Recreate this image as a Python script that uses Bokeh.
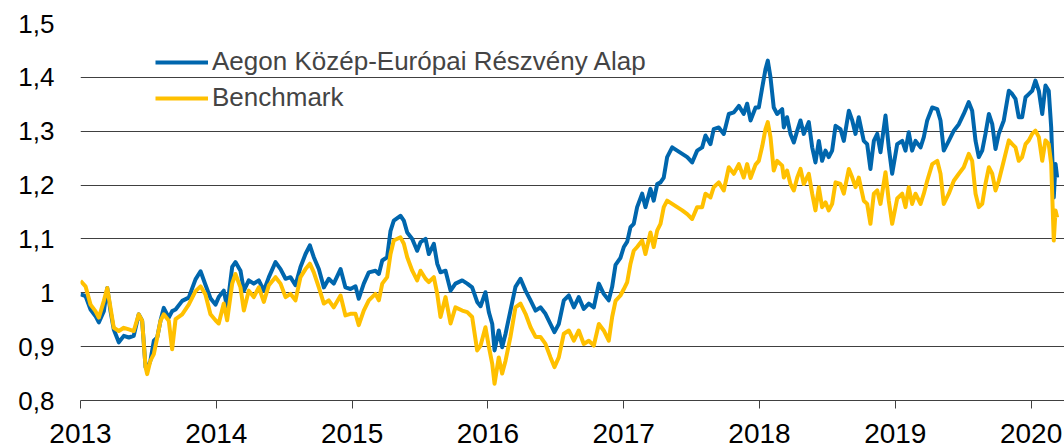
from bokeh.plotting import figure
from bokeh.models import FixedTicker, Legend, LegendItem, Range1d
from bokeh.embed import file_html
from bokeh.resources import INLINE

# decimal year positions of the readings
years = [
    2013.000, 2013.037, 2013.074, 2013.110, 2013.135, 2013.172, 2013.197, 2013.221, 2013.245, 2013.282,
    2013.319, 2013.356, 2013.392, 2013.429, 2013.454, 2013.479, 2013.491, 2013.515, 2013.540, 2013.565,
    2013.589, 2013.613, 2013.650, 2013.675, 2013.700, 2013.749, 2013.797, 2013.847, 2013.884, 2013.920,
    2013.957, 2013.994, 2014.018, 2014.055, 2014.080, 2014.117, 2014.141, 2014.178, 2014.203, 2014.239,
    2014.276, 2014.313, 2014.350, 2014.387, 2014.436, 2014.473, 2014.510, 2014.546, 2014.583, 2014.620,
    2014.657, 2014.689, 2014.718, 2014.755, 2014.792, 2014.828, 2014.865, 2014.915, 2014.951, 2014.988,
    2015.025, 2015.049, 2015.086, 2015.123, 2015.172, 2015.197, 2015.222, 2015.258, 2015.283, 2015.307,
    2015.356, 2015.381, 2015.406, 2015.443, 2015.479, 2015.504, 2015.541, 2015.565, 2015.602, 2015.627,
    2015.651, 2015.688, 2015.725, 2015.761, 2015.811, 2015.848, 2015.884, 2015.921, 2015.946, 2015.982,
    2016.007, 2016.032, 2016.049, 2016.080, 2016.105, 2016.130, 2016.166, 2016.203, 2016.240, 2016.277,
    2016.314, 2016.351, 2016.387, 2016.424, 2016.461, 2016.490, 2016.522, 2016.559, 2016.596, 2016.633,
    2016.669, 2016.706, 2016.743, 2016.780, 2016.817, 2016.853, 2016.890, 2016.915, 2016.940, 2016.976,
    2017.001, 2017.026, 2017.050, 2017.074, 2017.099, 2017.136, 2017.160, 2017.197, 2017.221, 2017.247,
    2017.271, 2017.295, 2017.320, 2017.357, 2017.394, 2017.431, 2017.468, 2017.504, 2017.541, 2017.578,
    2017.602, 2017.639, 2017.663, 2017.700, 2017.737, 2017.774, 2017.811, 2017.848, 2017.884, 2017.909,
    2017.934, 2017.971, 2017.995, 2018.020, 2018.044, 2018.061, 2018.081, 2018.105, 2018.130, 2018.167,
    2018.179, 2018.203, 2018.228, 2018.253, 2018.278, 2018.302, 2018.326, 2018.363, 2018.388, 2018.412,
    2018.437, 2018.461, 2018.486, 2018.510, 2018.535, 2018.560, 2018.596, 2018.621, 2018.658, 2018.683,
    2018.707, 2018.731, 2018.768, 2018.793, 2018.817, 2018.842, 2018.867, 2018.891, 2018.928, 2018.952,
    2018.977, 2019.014, 2019.051, 2019.075, 2019.099, 2019.124, 2019.149, 2019.186, 2019.210, 2019.235,
    2019.272, 2019.309, 2019.333, 2019.357, 2019.394, 2019.431, 2019.468, 2019.504, 2019.541, 2019.566,
    2019.591, 2019.615, 2019.640, 2019.664, 2019.689, 2019.714, 2019.738, 2019.762, 2019.799, 2019.836,
    2019.861, 2019.885, 2019.909, 2019.934, 2019.959, 2019.983, 2020.008, 2020.032, 2020.057, 2020.082,
    2020.106, 2020.130, 2020.148, 2020.167, 2020.180, 2020.192,
]

fund = [
    0.997, 0.994, 0.969, 0.957, 0.945, 0.966, 1.009, 0.966, 0.932, 0.908,
    0.920, 0.917, 0.920, 0.960, 0.948, 0.862, 0.858, 0.874, 0.911, 0.917,
    0.948, 0.972, 0.954, 0.966, 0.969, 0.985, 0.991, 1.025, 1.040, 1.015,
    0.990, 0.978, 0.992, 1.004, 0.973, 1.048, 1.057, 1.041, 1.004, 1.023,
    1.017, 1.023, 1.004, 1.029, 1.057, 1.044, 1.026, 1.029, 1.014, 1.048,
    1.072, 1.088, 1.066, 1.044, 1.010, 1.026, 1.017, 1.044, 1.010, 1.007,
    1.012, 0.989, 1.017, 1.038, 1.041, 1.035, 1.060, 1.066, 1.115, 1.134,
    1.143, 1.134, 1.112, 1.100, 1.078, 1.094, 1.100, 1.072, 1.091, 1.054,
    1.038, 1.041, 1.004, 1.017, 1.023, 1.017, 1.010, 0.983, 0.975, 1.001,
    0.964, 0.942, 0.893, 0.930, 0.899, 0.924, 0.967, 1.011, 1.026, 1.004,
    0.986, 0.967, 0.973, 0.961, 0.942, 0.927, 0.942, 0.986, 0.995, 0.973,
    0.992, 0.970, 0.980, 0.973, 1.017, 0.998, 0.986, 1.011, 1.052, 1.065,
    1.085, 1.095, 1.122, 1.128, 1.159, 1.184, 1.159, 1.193, 1.171, 1.202,
    1.205, 1.214, 1.252, 1.270, 1.264, 1.258, 1.252, 1.242, 1.264, 1.270,
    1.292, 1.276, 1.304, 1.307, 1.295, 1.332, 1.335, 1.347, 1.332, 1.351,
    1.320, 1.344, 1.344, 1.381, 1.415, 1.431, 1.400, 1.344, 1.332, 1.341,
    1.307, 1.326, 1.295, 1.279, 1.301, 1.320, 1.295, 1.317, 1.270, 1.242,
    1.282, 1.245, 1.264, 1.252, 1.264, 1.310, 1.304, 1.282, 1.338, 1.320,
    1.295, 1.326, 1.282, 1.276, 1.230, 1.282, 1.295, 1.261, 1.329, 1.270,
    1.221, 1.276, 1.282, 1.264, 1.298, 1.264, 1.282, 1.270, 1.289, 1.320,
    1.344, 1.341, 1.320, 1.264, 1.282, 1.301, 1.313, 1.332, 1.354, 1.338,
    1.282, 1.252, 1.264, 1.295, 1.332, 1.313, 1.267, 1.295, 1.320, 1.375,
    1.369, 1.360, 1.326, 1.326, 1.363, 1.369, 1.375, 1.394, 1.375, 1.332,
    1.385, 1.375, 1.307, 1.177, 1.239, 1.214,
]

benchmark = [
    1.022, 1.012, 0.978, 0.966, 0.954, 0.985, 1.009, 0.972, 0.935, 0.929,
    0.935, 0.932, 0.929, 0.960, 0.948, 0.862, 0.849, 0.874, 0.886, 0.917,
    0.948, 0.960, 0.948, 0.895, 0.951, 0.960, 0.978, 1.003, 1.012, 0.997,
    0.960, 0.949, 0.943, 0.980, 0.949, 1.017, 1.035, 1.010, 0.967, 1.004,
    0.992, 1.010, 0.983, 1.014, 1.029, 1.017, 0.992, 0.998, 0.986, 1.029,
    1.044, 1.054, 1.038, 1.010, 0.980, 0.986, 0.973, 0.995, 0.958, 0.961,
    0.961, 0.940, 0.967, 0.986, 0.998, 0.986, 1.017, 1.029, 1.072, 1.097,
    1.103, 1.091, 1.066, 1.041, 1.023, 1.041, 1.026, 1.020, 1.029, 0.998,
    0.955, 0.992, 0.943, 0.973, 0.967, 0.964, 0.955, 0.893, 0.902, 0.936,
    0.900, 0.868, 0.831, 0.880, 0.850, 0.874, 0.918, 0.973, 0.980, 0.961,
    0.936, 0.918, 0.918, 0.905, 0.880, 0.862, 0.880, 0.924, 0.930, 0.911,
    0.930, 0.905, 0.911, 0.902, 0.942, 0.930, 0.911, 0.955, 0.985, 0.995,
    1.007, 1.020, 1.054, 1.078, 1.085, 1.097, 1.072, 1.112, 1.085, 1.116,
    1.128, 1.159, 1.171, 1.165, 1.159, 1.153, 1.146, 1.137, 1.159, 1.159,
    1.184, 1.177, 1.196, 1.205, 1.190, 1.233, 1.221, 1.239, 1.214, 1.239,
    1.213, 1.238, 1.245, 1.272, 1.304, 1.317, 1.289, 1.227, 1.245, 1.236,
    1.214, 1.227, 1.202, 1.190, 1.214, 1.230, 1.202, 1.221, 1.184, 1.153,
    1.196, 1.159, 1.168, 1.153, 1.165, 1.205, 1.202, 1.184, 1.230, 1.214,
    1.196, 1.214, 1.171, 1.165, 1.128, 1.184, 1.190, 1.165, 1.224, 1.171,
    1.128, 1.175, 1.184, 1.159, 1.196, 1.165, 1.184, 1.165, 1.184, 1.208,
    1.239, 1.245, 1.221, 1.165, 1.184, 1.208, 1.221, 1.233, 1.258, 1.245,
    1.184, 1.159, 1.165, 1.202, 1.233, 1.221, 1.190, 1.208, 1.245, 1.283,
    1.276, 1.270, 1.245, 1.252, 1.276, 1.283, 1.295, 1.301, 1.289, 1.245,
    1.283, 1.276, 1.239, 1.097, 1.153, 1.140,
]

series_names = ["Aegon Közép-Európai Részvény Alap", "Benchmark"]
year_ticks = [2013, 2014, 2015, 2016, 2017, 2018, 2019, 2020]
year_labels = ["2013", "2014", "2015", "2016", "2017", "2018", "2019", "2020"]
y_ticks = [0.8, 0.9, 1.0, 1.1, 1.2, 1.3, 1.4, 1.5]
y_labels = ["0,8", "0,9", "1", "1,1", "1,2", "1,3", "1,4", "1,5"]

BLUE = "#0066AD"
YELLOW = "#FFC000"
GRID = "#404040"
FONT = "Liberation Sans"

p = figure(width=1064, height=447, output_backend="svg", toolbar_location=None,
           x_range=Range1d(2013, 2020.246), y_range=Range1d(0.8, 1.5),
           min_border_left=80, min_border_right=0, min_border_top=23, min_border_bottom=47)
p.outline_line_color = None
p.background_fill_color = "white"
p.border_fill_color = "white"

r_fund = p.line(years, fund, line_color=BLUE, line_width=4, line_join="round")
r_bench = p.line(years, benchmark, line_color=YELLOW, line_width=4, line_join="round")

xa = p.xaxis[0]
xa.ticker = FixedTicker(ticks=year_ticks)
xa.major_label_overrides = dict(zip(year_ticks, year_labels))
xa.axis_line_color = GRID
xa.axis_line_width = 1
xa.major_tick_line_color = GRID
xa.major_tick_in = 0
xa.major_tick_out = 8
xa.minor_tick_line_color = None
xa.major_label_standoff = 15
xa.major_label_text_line_height = 0.8
xa.major_label_text_font = FONT
xa.major_label_text_font_size = "28px"
xa.major_label_text_color = "black"

ya = p.yaxis[0]
ya.ticker = FixedTicker(ticks=y_ticks)
ya.major_label_overrides = dict(zip(y_ticks, y_labels))
ya.axis_line_color = None
ya.major_tick_line_color = None
ya.major_tick_in = 0
ya.major_tick_out = 0
ya.minor_tick_line_color = None
ya.major_label_standoff = 26
ya.major_label_text_font = FONT
ya.major_label_text_font_size = "26px"
ya.major_label_text_color = "black"

p.xgrid.visible = False
p.ygrid.ticker = FixedTicker(ticks=y_ticks)
p.ygrid.grid_line_color = GRID
p.ygrid.grid_line_width = 1

legend = Legend(items=[LegendItem(label=series_names[0], renderers=[r_fund]),
                       LegendItem(label=series_names[1], renderers=[r_bench])],
                location=(75, 287))
legend.border_line_color = None
legend.background_fill_alpha = 0
legend.padding = 0
legend.margin = 0
legend.spacing = 5
legend.glyph_width = 53
legend.glyph_height = 30
legend.label_height = 30
legend.label_standoff = 4
legend.label_text_font = FONT
legend.label_text_font_size = "26px"
legend.label_text_baseline = "middle"
p.add_layout(legend)

open("out.html", "w").write(file_html(p, INLINE))
